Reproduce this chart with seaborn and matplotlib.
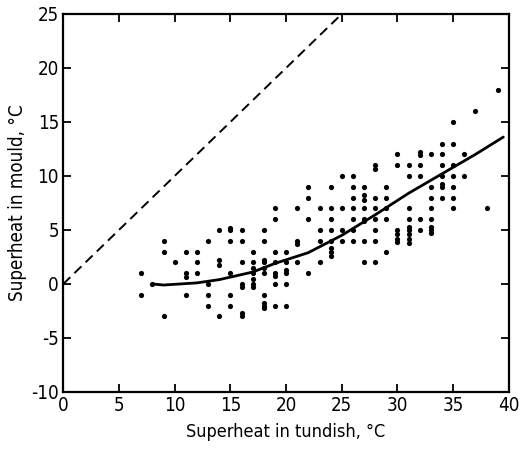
import matplotlib
matplotlib.use('Agg')
import matplotlib.pyplot as plt
import seaborn as sns
import pandas as pd

# 数据：中间包过热度 vs 结晶器过热度
tundish = [7, 7, 8, 9, 9, 9, 10,
           11, 11, 11, 11, 12, 12, 12,
           13, 13, 13, 13, 14, 14, 14, 14,
           15, 15, 15, 15, 15, 15,
           16, 16, 16, 16, 16, 16, 16,
           17, 17, 17, 17, 17, 17, 17,
           18, 18, 18, 18, 18, 18, 18, 18, 18, 18,
           19, 19, 19, 19, 19, 19, 19, 19,
           20, 20, 20, 20, 20, 20,
           21, 21, 21, 21,
           22, 22, 22, 22,
           23, 23, 23, 23,
           24, 24, 24, 24, 24, 24, 24, 24,
           25, 25, 25, 25,
           26, 26, 26, 26, 26, 26, 26,
           27, 27, 27, 27, 27, 27, 27, 27,
           28, 28, 28, 28, 28, 28, 28, 28,
           29, 29, 29, 29, 29,
           30, 30, 30, 30, 30, 30,
           31, 31, 31, 31, 31, 31, 31, 31, 31,
           32, 32, 32, 32, 32, 32,
           33, 33, 33, 33, 33, 33, 33, 33,
           34, 34, 34, 34, 34, 34, 34,
           35, 35, 35, 35, 35, 35, 35,
           36, 36, 37, 38, 39]
mould = [1, -1, 0, 4, 3, -3, 2,
         3, 1, 0.6, -1, 3, 2, 1,
         4, 0, -1, -2, 5, 2.2, 1.8, -3,
         5.2, 5, 4, 1, -1, -2,
         5, 4, 2, 0, -0.3, -2.7, -3,
         3, 2, 1.5, 1, 0.5, 0, -0.3,
         5, 4, 2.2, 2, 1.5, 1, -1, -1.8, -2, -2.2,
         7, 6, 3, 2, 1, 0.7, 0, -2,
         3, 2, 1.3, 1, 0, -2,
         7, 4, 3.7, 2,
         9, 8, 6, 1,
         7, 5, 4, 2,
         9, 7, 6, 5, 4, 3.3, 3, 2.6,
         10, 7, 5, 4,
         10, 9, 8, 7, 6, 5, 4,
         9, 8.2, 7.8, 7, 6, 5.8, 4, 2,
         11, 10.6, 8, 7, 6, 5, 4, 2,
         9, 8, 7, 6, 3,
         12, 11, 5, 4.6, 4.2, 3.9,
         11, 10, 7, 6, 5.3, 5, 4.6, 4.2, 3.8,
         12.2, 11.9, 11, 10, 6, 5,
         12, 9, 8, 7, 6, 5.3, 5, 4.7,
         13, 12, 11, 10, 9.3, 9, 8,
         15, 13, 11, 10, 9, 8, 7,
         12, 10, 16, 7, 18]

# 拟合曲线（读图取点）
fit_x = [8, 9, 12, 14, 17, 19, 22, 25, 28, 31, 34, 37, 39.5]
fit_y = [0.0, -0.1, 0.1, 0.4, 1.1, 1.9, 2.9, 4.5, 6.4, 8.4, 10.2, 12.0, 13.6]

# 等温线 y = x
ref_x = [0, 25]
ref_y = [0, 25]

df = pd.DataFrame({'tundish': tundish, 'mould': mould})

sns.set_theme(style="ticks")
plt.rcParams['font.family'] = ['DejaVu Sans']
plt.rcParams['font.stretch'] = 'condensed'
plt.rcParams['axes.unicode_minus'] = False

fig = plt.figure(figsize=(5.23, 4.5), dpi=100)
ax = fig.add_axes([0.121, 0.129, 0.852, 0.840])

sns.scatterplot(data=df, x='tundish', y='mould', ax=ax, color='black',
                s=14, edgecolor='black', linewidth=0)
sns.lineplot(x=fit_x, y=fit_y, ax=ax, color='black', lw=2)
ax.plot(ref_x, ref_y, color='black', lw=1.4, linestyle=(0, (5, 3)))

ax.set_xlim(0, 40)
ax.set_ylim(-10, 25)
ax.set_xticks(range(0, 41, 5))
ax.set_yticks(range(-10, 26, 5))
ax.tick_params(direction='in', length=6, width=1.3, top=True, right=True,
               labelsize=13.5, colors='black', pad=3)
for sp in ax.spines.values():
    sp.set_linewidth(1.6)
    sp.set_color('black')

ax.set_xlabel('Superheat in tundish, °C', fontsize=13, color='black', labelpad=6)
ax.set_ylabel('Superheat in mould, °C', fontsize=13.5, color='black', labelpad=3)

fig.savefig('out.png', dpi=100)
